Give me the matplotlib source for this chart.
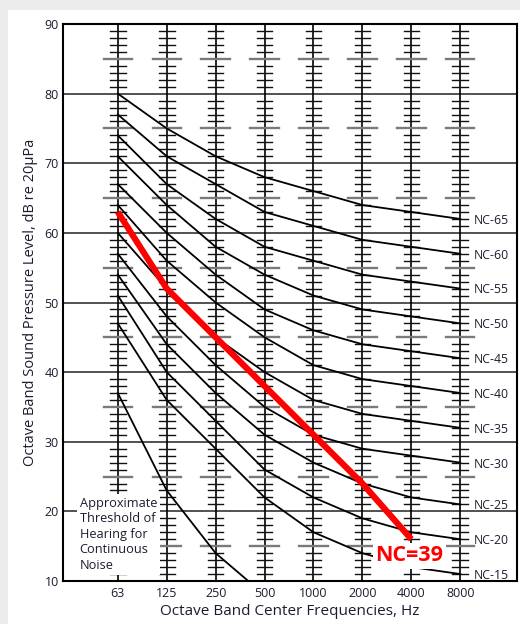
import matplotlib
matplotlib.use("Agg")
import matplotlib.pyplot as plt
from matplotlib.patches import Rectangle

# octave band centre frequencies (categorical positions)
freqs = ["63", "125", "250", "500", "1000", "2000", "4000", "8000"]

# NC curves, dB at each octave band
nc_names = ["NC-65", "NC-60", "NC-55", "NC-50", "NC-45", "NC-40",
            "NC-35", "NC-30", "NC-25", "NC-20", "NC-15"]
nc_65 = [80, 75, 71, 68, 66, 64, 63, 62]
nc_60 = [77, 71, 67, 63, 61, 59, 58, 57]
nc_55 = [74, 67, 62, 58, 56, 54, 53, 52]
nc_50 = [71, 64, 58, 54, 51, 49, 48, 47]
nc_45 = [67, 60, 54, 49, 46, 44, 43, 42]
nc_40 = [64, 56, 50, 45, 41, 39, 38, 37]
nc_35 = [60, 52, 45, 40, 36, 34, 33, 32]
nc_30 = [57, 48, 41, 35, 31, 29, 28, 27]
nc_25 = [54, 44, 37, 31, 27, 24, 22, 21]
nc_20 = [51, 40, 33, 26, 22, 19, 17, 16]
nc_15 = [47, 36, 29, 22, 17, 14, 12, 11]
nc_curves = [nc_65, nc_60, nc_55, nc_50, nc_45, nc_40,
             nc_35, nc_30, nc_25, nc_20, nc_15]

# approximate threshold of hearing (63..500 Hz)
threshold = [37, 23, 14, 8]

# measured spectrum, NC=39 (63..4000 Hz)
measured = [63, 52, 45, 38, 31, 24, 16]

y_ticks = [10, 20, 30, 40, 50, 60, 70, 80, 90]

plt.rcParams["font.family"] = ["Open Sans", "DejaVu Sans"]
txt = "#1c1c30"

fig = plt.figure(figsize=(5.2, 6.24), dpi=100, facecolor="white")
# grey page margin at top and left
fig.patches.append(Rectangle((0, 1 - 10 / 624), 1, 10 / 624, transform=fig.transFigure,
                             facecolor="#ececec", edgecolor="none", zorder=-10))
fig.patches.append(Rectangle((0, 0), 8 / 520, 1, transform=fig.transFigure,
                             facecolor="#ececec", edgecolor="none", zorder=-10))
ax = fig.add_axes([63 / 520, 1 - 581 / 624, (517 - 63) / 520, (581 - 24) / 624])
ax.set_facecolor("white")

xs = list(range(len(freqs)))
ax.set_xlim(-1.12, 8.16)
ax.set_ylim(10, 90)

# horizontal grid every 10 dB
for y in y_ticks:
    ax.axhline(y, color="#222222", lw=1.1, zorder=1)

# vertical scale columns with 1 dB ticks
for x in xs:
    ax.axvline(x, color="black", lw=1.2, zorder=2)
    for v in range(11, 90):
        if v % 10 == 0:
            continue
        if v % 5 == 0:
            ax.plot([x - 0.29, x + 0.29], [v, v], color="#7a7a7a", lw=1.7, zorder=2)
        else:
            ax.plot([x - 0.16, x + 0.16], [v, v], color="#111111", lw=1.0, zorder=2)

for name, vals in zip(nc_names, nc_curves):
    ax.plot(xs, vals, color="black", lw=1.3, zorder=3)
    ax.text(xs[-1] + 0.27, vals[-1] - 0.2, name, fontsize=8.8, color=txt,
            ha="left", va="center", zorder=4)

ax.plot(xs[:len(threshold)], threshold, color="black", lw=1.3, zorder=3)
ax.plot(xs[:len(measured)], measured, color="#ff0000", lw=4.5,
        solid_capstyle="butt", zorder=6)

ax.text(-0.78, 22.1, "Approximate\nThreshold of\nHearing for\nContinuous\nNoise",
        fontsize=9.2, color=txt, ha="left", va="top", linespacing=1.25, zorder=5,
        bbox=dict(facecolor="white", edgecolor="none", pad=2))
ax.text(5.96, 13.6, "NC=39", fontsize=15.5, fontweight="bold", color="#ff0000",
        ha="center", va="center", zorder=5,
        bbox=dict(facecolor="white", edgecolor="none", pad=1.5))

ax.set_xticks(xs)
ax.set_xticklabels(freqs)
ax.set_yticks(y_ticks)
ax.tick_params(length=0, labelsize=9, colors=txt, pad=3)
ax.tick_params(axis="x", pad=4)
for s in ax.spines.values():
    s.set_linewidth(1.5)
    s.set_color("black")
    s.set_zorder(7)

ax.set_xlabel("Octave Band Center Frequencies, Hz", fontsize=11, color=txt, labelpad=3)
ax.set_ylabel("Octave Band Sound Pressure Level, dB re 20\u00b5Pa", fontsize=10.5,
              color=txt, labelpad=5)

fig.savefig("out.png", dpi=100, facecolor=fig.get_facecolor())
